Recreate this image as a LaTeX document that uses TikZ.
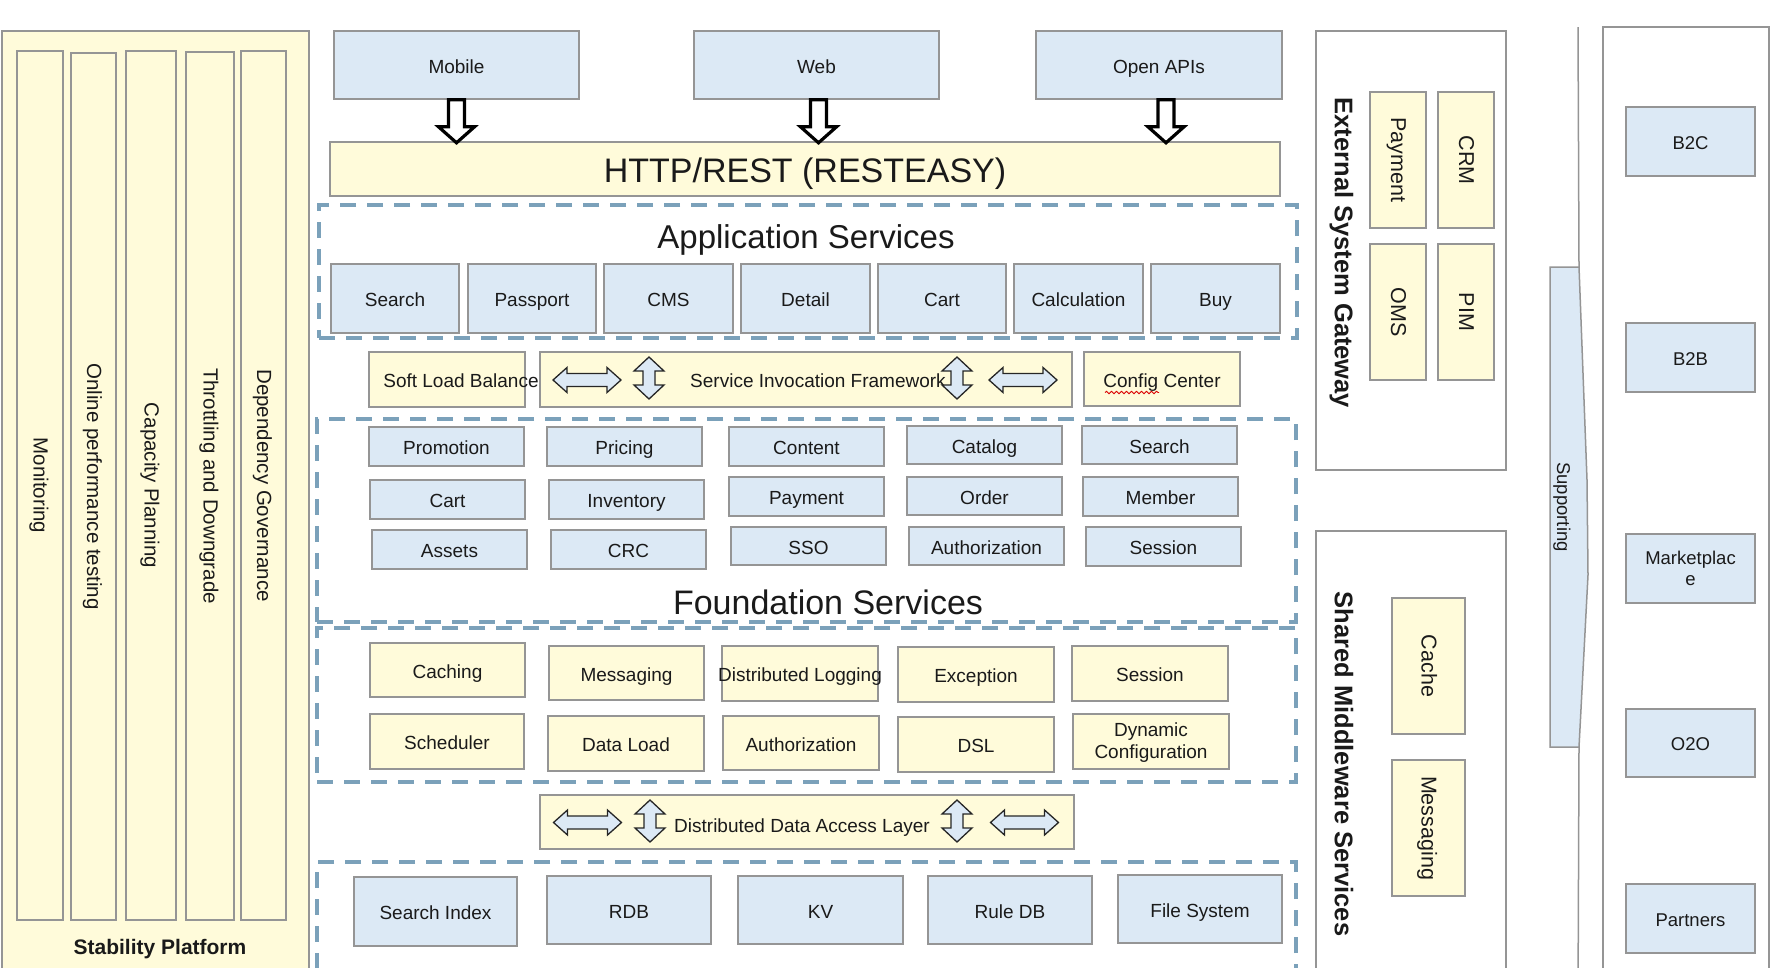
\documentclass[tikz,border=0pt]{standalone}
\usepackage{fontspec}
\setmainfont{Liberation Sans}
\usetikzlibrary{decorations.pathmorphing}
\definecolor{yfill}{HTML}{FFFBDA}
\definecolor{bfill}{HTML}{DCE9F5}
\definecolor{bord}{HTML}{959595}
\definecolor{dashc}{HTML}{7BA1BA}
\definecolor{txt}{HTML}{1A1A1A}
\tikzset{
  base/.style={draw=bord, line width=1.6pt, inner sep=0pt, rectangle},
  ybox/.style={base, fill=yfill},
  bbox/.style={base, fill=bfill},
  wbox/.style={base, fill=white},
  dashbox/.style={draw=dashc, line width=4pt, dash pattern=on 16pt off 11pt, inner sep=0pt, rectangle},
  lbltwo/.style={font=\fontsize{19}{21.5}\selectfont, text=txt, inner sep=0pt, align=center},
  lbl/.style={lbltwo, text height=13.6pt, text depth=1.6pt, yshift=-2pt},
  biglbl/.style={lbltwo, font=\fontsize{34}{40}\selectfont, text height=24.4pt, text depth=2.6pt, yshift=-3pt},
  sidetitle/.style={lbltwo, rotate=-90, font=\fontsize{25.5}{30}\selectfont\bfseries, text height=18.3pt, text depth=2pt},
  sidelbl/.style={lbltwo, rotate=-90, font=\fontsize{21.5}{25}\selectfont, text height=15.4pt, text depth=1.8pt},
  stablbl/.style={lbltwo, rotate=-90, font=\fontsize{20.5}{24}\selectfont, text height=14.7pt, text depth=1.7pt},
  rlbl/.style={lbltwo, font=\fontsize{18.5}{21}\selectfont, text height=13.2pt, text depth=1.5pt, yshift=-2pt},
  rlbltwo/.style={lbltwo, font=\fontsize{18.5}{21}\selectfont},
  dnarr/.pic={\draw[line width=3.2pt, draw=black, fill=white, miter limit=4]
     (-8,0) -- (8,0) -- (8,27) -- (18,27) -- (0,43) -- (-18,27) -- (-8,27) -- cycle;},
  harr/.pic={\draw[line width=1.3pt, draw=black!85, fill=bfill]
     (-34,0) -- (-20,-12.5) -- (-20,-6.5) -- (20,-6.5) -- (20,-12.5) -- (34,0)
     -- (20,12.5) -- (20,6.5) -- (-20,6.5) -- (-20,12.5) -- cycle;},
  varr/.pic={\draw[line width=1.3pt, draw=black!85, fill=bfill]
     (0,-21) -- (15,-7) -- (6,-7) -- (6,7) -- (15,7) -- (0,21)
     -- (-15,7) -- (-6,7) -- (-6,-7) -- (-15,-7) -- cycle;},
}
% style, label style, name, x1, y1, x2, y2, text
\newcommand\mkbox[8]{%
  \node[#1, minimum width={#6pt-#4pt}, minimum height={#7pt-#5pt}] (#3) at ({(#4+#6)/2},{(#5+#7)/2}) {};
  \node[#2] (#3-t) at (#3.center) {#8};}
\begin{document}
\begin{tikzpicture}[x=1pt, y=-1pt]
\useasboundingbox (0,0) rectangle (1787,967);
\clip (0,0) rectangle (1787,967);
\fill[white] (0,0) rectangle (1787,967);

% ---------------- Stability platform ----------------
\mkbox{ybox}{lbltwo}{stab}{2}{31}{309}{995}{}
\mkbox{ybox}{stablbl}{mon}{17}{51}{63}{920}{Monitoring}
\mkbox{ybox}{stablbl}{perf}{71}{53}{116}{920}{Online performance testing}
\mkbox{ybox}{stablbl}{cap}{126}{51}{176}{920}{Capacity Planning}
\mkbox{ybox}{stablbl}{thr}{186}{52}{234}{920}{Throttling and Downgrade}
\mkbox{ybox}{stablbl}{dep}{241}{51}{286}{920}{Dependency Governance}
\node[lbltwo, font=\fontsize{21}{24}\selectfont\bfseries, text height=15pt, text depth=1.5pt] (stabtitle) at (160,948) {Stability Platform};

% ---------------- Clients ----------------
\mkbox{bbox}{lbl}{mobile}{334}{31}{579}{99}{Mobile}
\mkbox{bbox}{lbl}{web}{694}{31}{939}{99}{Web}
\mkbox{bbox}{lbl}{openapi}{1036}{31}{1282}{99}{Open APIs}

\mkbox{ybox}{biglbl}{http}{330}{142}{1280}{196}{HTTP/REST (RESTEASY)}
\pic at (mobile.south) {dnarr};
\pic at ([xshift=2pt]web.south) {dnarr};
\pic at ([xshift=7pt]openapi.south) {dnarr};

% ---------------- Application services ----------------
\mkbox{dashbox}{lbltwo}{appgrp}{319}{205}{1297}{338}{}
\node[lbltwo, font=\fontsize{33}{40}\selectfont, text height=23.7pt, text depth=2.5pt] (apptitle) at (806,238) {Application Services};
\mkbox{bbox}{lbl}{asearch}{331}{264}{459}{333}{Search}
\mkbox{bbox}{lbl}{apass}{468}{264}{596}{333}{Passport}
\mkbox{bbox}{lbl}{acms}{604}{264}{733}{333}{CMS}
\mkbox{bbox}{lbl}{adetail}{741}{264}{870}{333}{Detail}
\mkbox{bbox}{lbl}{acart}{878}{264}{1006}{333}{Cart}
\mkbox{bbox}{lbl}{acalc}{1014}{264}{1143}{333}{Calculation}
\mkbox{bbox}{lbl}{abuy}{1151}{264}{1280}{333}{Buy}

% ---------------- Service invocation row ----------------
\mkbox{ybox}{lbl, xshift=14pt}{slb}{369}{352}{525}{407}{Soft Load Balance}
\mkbox{ybox}{lbl, xshift=12pt}{sif}{540}{352}{1072}{407}{Service Invocation Framework}
\mkbox{ybox}{lbl}{cfg}{1084}{352}{1240}{406}{Config Center}
\draw[red!85!black, line width=0.9pt, decorate, decoration={snake, amplitude=1.2pt, segment length=5pt}]
  ([xshift=-57pt, yshift=-13.5pt]cfg.center) -- ([xshift=-3pt, yshift=-13.5pt]cfg.center);
\pic at (587,380) {harr};
\pic at (649,378) {varr};
\pic at (957,378) {varr};
\pic at (1023,380) {harr};

% ---------------- Foundation services ----------------
\mkbox{dashbox}{lbltwo}{fndgrp}{317}{419}{1296}{622}{}
\node[lbltwo, font=\fontsize{34}{40}\selectfont, text height=24.4pt, text depth=2.6pt] (fndtitle) at (828,604) {Foundation Services};
\mkbox{bbox}{lbl}{fpromo}{369}{427}{524}{466}{Promotion}
\mkbox{bbox}{lbl}{fpricing}{547}{427}{702}{466}{Pricing}
\mkbox{bbox}{lbl}{fcontent}{729}{427}{884}{466}{Content}
\mkbox{bbox}{lbl}{fcatalog}{907}{426}{1062}{464}{Catalog}
\mkbox{bbox}{lbl}{fsearch}{1082}{426}{1237}{464}{Search}
\mkbox{bbox}{lbl}{fcart}{370}{480}{525}{519}{Cart}
\mkbox{bbox}{lbl}{finv}{549}{480}{704}{519}{Inventory}
\mkbox{bbox}{lbl}{fpay}{729}{477}{884}{516}{Payment}
\mkbox{bbox}{lbl}{forder}{907}{477}{1062}{515}{Order}
\mkbox{bbox}{lbl}{fmember}{1083}{477}{1238}{516}{Member}
\mkbox{bbox}{lbl}{fassets}{372}{530}{527}{569}{Assets}
\mkbox{bbox}{lbl}{fcrc}{551}{530}{706}{569}{CRC}
\mkbox{bbox}{lbl}{fsso}{731}{527}{886}{565}{SSO}
\mkbox{bbox}{lbl}{fauth}{909}{527}{1064}{565}{Authorization}
\mkbox{bbox}{lbl}{fsession}{1086}{527}{1241}{566}{Session}

% ---------------- Middleware group ----------------
\mkbox{dashbox}{lbltwo}{midgrp}{317}{628}{1296}{782}{}
\mkbox{ybox}{lbl}{mcache}{370}{643}{525}{697}{Caching}
\mkbox{ybox}{lbl}{mmsg}{549}{646}{704}{700}{Messaging}
\mkbox{ybox}{lbl}{mlog}{722}{646}{878}{701}{Distributed Logging}
\mkbox{ybox}{lbl}{mexc}{898}{647}{1054}{702}{Exception}
\mkbox{ybox}{lbl}{msession}{1072}{646}{1228}{701}{Session}
\mkbox{ybox}{lbl}{msched}{370}{714}{524}{769}{Scheduler}
\mkbox{ybox}{lbl}{mload}{548}{716}{704}{771}{Data Load}
\mkbox{ybox}{lbl}{mauth}{723}{716}{879}{770}{Authorization}
\mkbox{ybox}{lbl}{mdsl}{898}{717}{1054}{772}{DSL}
\mkbox{ybox}{lbltwo, yshift=-1pt}{mdyn}{1073}{714}{1229}{769}{Dynamic\\Configuration}

% ---------------- Data access layer ----------------
\mkbox{ybox}{lbl, xshift=-5pt, yshift=-2pt}{ddal}{540}{795}{1074}{849}{Distributed Data Access Layer}
\pic at (587.5,822.5) {harr};
\pic at (650,821) {varr};
\pic at (957,821) {varr};
\pic at (1024.5,822.5) {harr};

% ---------------- Storage ----------------
\mkbox{dashbox}{lbltwo}{datagrp}{317}{862}{1296}{1000}{}
\mkbox{bbox}{lbl}{dindex}{354}{877}{517}{946}{Search Index}
\mkbox{bbox}{lbl}{drdb}{547}{876}{711}{944}{RDB}
\mkbox{bbox}{lbl}{dkv}{738}{876}{903}{944}{KV}
\mkbox{bbox}{lbl}{drule}{928}{876}{1092}{944}{Rule DB}
\mkbox{bbox}{lbl}{dfs}{1118}{875}{1282}{943}{File System}

% ---------------- External system gateway ----------------
\mkbox{wbox}{lbltwo}{extgrp}{1316}{31}{1506}{470}{}
\node[sidetitle] (exttitle) at (1343,253) {External System Gateway};
\mkbox{ybox}{sidelbl}{epay}{1370}{92}{1426}{228}{Payment}
\mkbox{ybox}{sidelbl}{ecrm}{1438}{92}{1494}{228}{CRM}
\mkbox{ybox}{sidelbl}{eoms}{1370}{244}{1426}{380}{OMS}
\mkbox{ybox}{sidelbl}{epim}{1438}{244}{1494}{380}{PIM}

% ---------------- Shared middleware ----------------
\mkbox{wbox}{lbltwo}{shgrp}{1316}{531}{1506}{1000}{}
\node[sidetitle] (shtitle) at (1343,764) {Shared Middleware Services};
\mkbox{ybox}{sidelbl}{scache}{1392}{598}{1465}{734}{Cache}
\mkbox{ybox}{sidelbl}{smsg}{1392}{760}{1465}{896}{Messaging}

% ---------------- Supporting ----------------
\draw[draw=bord, line width=1.5pt] (1578,27) -- (1579,267);
\draw[draw=bord, line width=1.5pt, fill=bfill] (1550,267) -- (1579,267) -- (1587,480) -- (1588,575) -- (1579,747) -- (1550,747) -- cycle;
\draw[draw=bord, line width=1.5pt] (1579,747) -- (1578,1000);
\node[lbltwo, rotate=-90, font=\fontsize{18.5}{21}\selectfont, text height=13.2pt, text depth=1.5pt] (suptext) at (1563,507) {Supporting};

% ---------------- Channels ----------------
\mkbox{wbox}{lbltwo}{chgrp}{1603}{27}{1769}{1000}{}
\mkbox{bbox}{rlbl}{b2c}{1626}{107}{1755}{176}{B2C}
\mkbox{bbox}{rlbl}{b2b}{1626}{323}{1755}{392}{B2B}
\mkbox{bbox}{rlbltwo}{market}{1626}{534}{1755}{603}{Marketplac\\e}
\mkbox{bbox}{rlbl}{o2o}{1626}{709}{1755}{777}{O2O}
\mkbox{bbox}{rlbl}{partners}{1626}{884}{1755}{953}{Partners}
\end{tikzpicture}
\end{document}
